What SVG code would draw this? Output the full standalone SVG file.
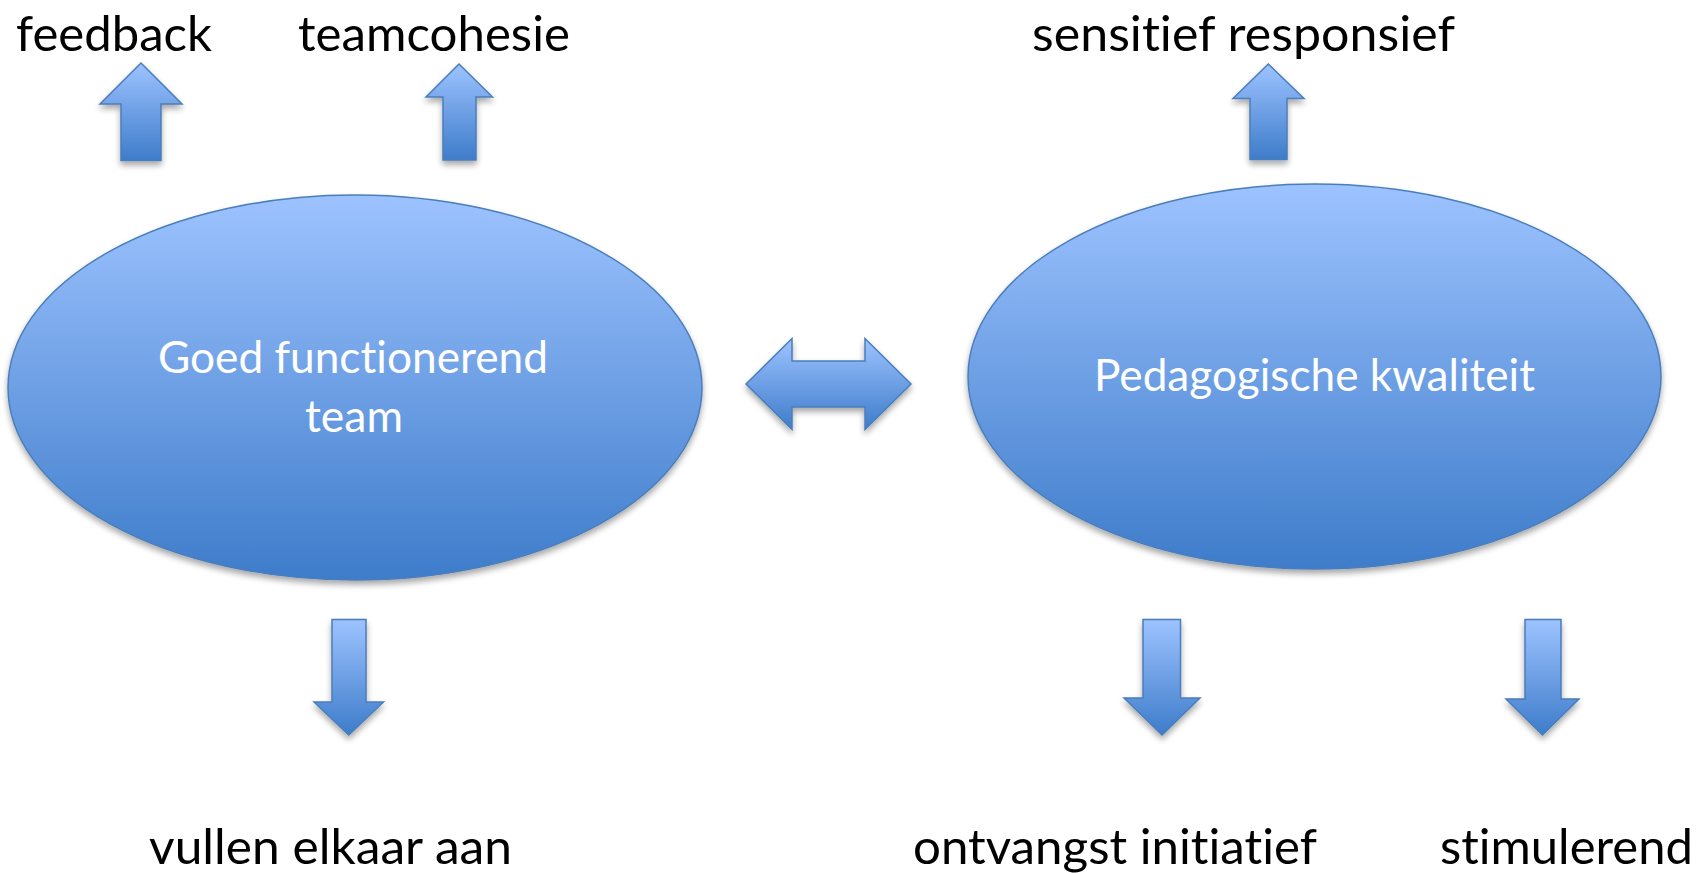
<svg xmlns="http://www.w3.org/2000/svg" width="1702" height="873" viewBox="0 0 1702 873">
<defs>
<linearGradient id="g" x1="0" y1="0" x2="0" y2="1">
<stop offset="0" stop-color="#9dc3ff"/>
<stop offset="1" stop-color="#3e7cca"/>
</linearGradient>
<filter id="sh" x="-10%" y="-10%" width="120%" height="125%">
<feGaussianBlur in="SourceAlpha" stdDeviation="3"/>
<feOffset dx="0" dy="4" result="b"/>
<feComponentTransfer><feFuncA type="linear" slope="0.35"/></feComponentTransfer>
<feMerge><feMergeNode/><feMergeNode in="SourceGraphic"/></feMerge>
</filter>
</defs>
<style>
.shape { fill: url(#g); stroke: #4a7ebb; stroke-width: 1.5; filter: url(#sh); }
.lbl { font-family: "Lato", "Liberation Sans", sans-serif; font-size: 49px; fill: #000000; font-variant-ligatures: none; font-feature-settings: "liga" 0, "clig" 0, "dlig" 0; letter-spacing: 0.01px; }
.in { font-family: "Lato", "Liberation Sans", sans-serif; font-size: 44px; fill: #ffffff; font-variant-ligatures: none; font-feature-settings: "liga" 0, "clig" 0, "dlig" 0; letter-spacing: 0.01px; }
</style>
<rect width="1702" height="873" fill="#ffffff"/>
<g id="connectors">
<path class="shape" d="M141,63 L182,104 L161,104 L161,160.5 L121,160.5 L121,104 L100,104 Z"/>
<path class="shape" d="M459,64 L492.5,97 L476,97 L476,160 L443,160 L443,97 L426,97 Z"/>
<path class="shape" d="M1268.3,64 L1304,98.5 L1287,98.5 L1287,159.5 L1250,159.5 L1250,98.5 L1233,98.5 Z"/>
<path class="shape" d="M332,619.5 L366,619.5 L366,702 L383.5,702 L348.7,735 L314,702 L332,702 Z"/>
<path class="shape" d="M1143,619.5 L1180.5,619.5 L1180.5,698 L1200,698 L1162,735 L1124,698 L1143,698 Z"/>
<path class="shape" d="M1525,619.5 L1561,619.5 L1561,699 L1579,699 L1542.5,735 L1506,699 L1525,699 Z"/>
<path class="shape" d="M746,384 L792,338.5 L792,361 L865,361 L865,338.5 L911,384 L865,429.5 L865,407 L792,407 L792,429.5 Z"/>
</g>
<g id="node-team">
<ellipse class="shape" cx="355" cy="387.5" rx="347" ry="192.5"/>
<text class="in" x="158" y="373" textLength="390" lengthAdjust="spacingAndGlyphs">Goed functionerend</text>
<text class="in" x="305" y="432" textLength="98" lengthAdjust="spacingAndGlyphs">team</text>
</g>
<g id="node-kwaliteit">
<ellipse class="shape" cx="1314.5" cy="376.5" rx="346.5" ry="192.5"/>
<text class="in" x="1094" y="391" textLength="441" lengthAdjust="spacingAndGlyphs">Pedagogische kwaliteit</text>
</g>
<g id="node-feedback">
<text class="lbl" x="16" y="51" textLength="196" lengthAdjust="spacingAndGlyphs">feedback</text>
</g>
<g id="node-teamcohesie">
<text class="lbl" x="298" y="51" textLength="272" lengthAdjust="spacingAndGlyphs">teamcohesie</text>
</g>
<g id="node-sensitief">
<text class="lbl" x="1032" y="51" textLength="423" lengthAdjust="spacingAndGlyphs">sensitief responsief</text>
</g>
<g id="node-vullen">
<text class="lbl" x="149" y="864" textLength="363" lengthAdjust="spacingAndGlyphs">vullen elkaar aan</text>
</g>
<g id="node-ontvangst">
<text class="lbl" x="913" y="864" textLength="404" lengthAdjust="spacingAndGlyphs">ontvangst initiatief</text>
</g>
<g id="node-stimulerend">
<text class="lbl" x="1440" y="864" textLength="253" lengthAdjust="spacingAndGlyphs">stimulerend</text>
</g>
</svg>
